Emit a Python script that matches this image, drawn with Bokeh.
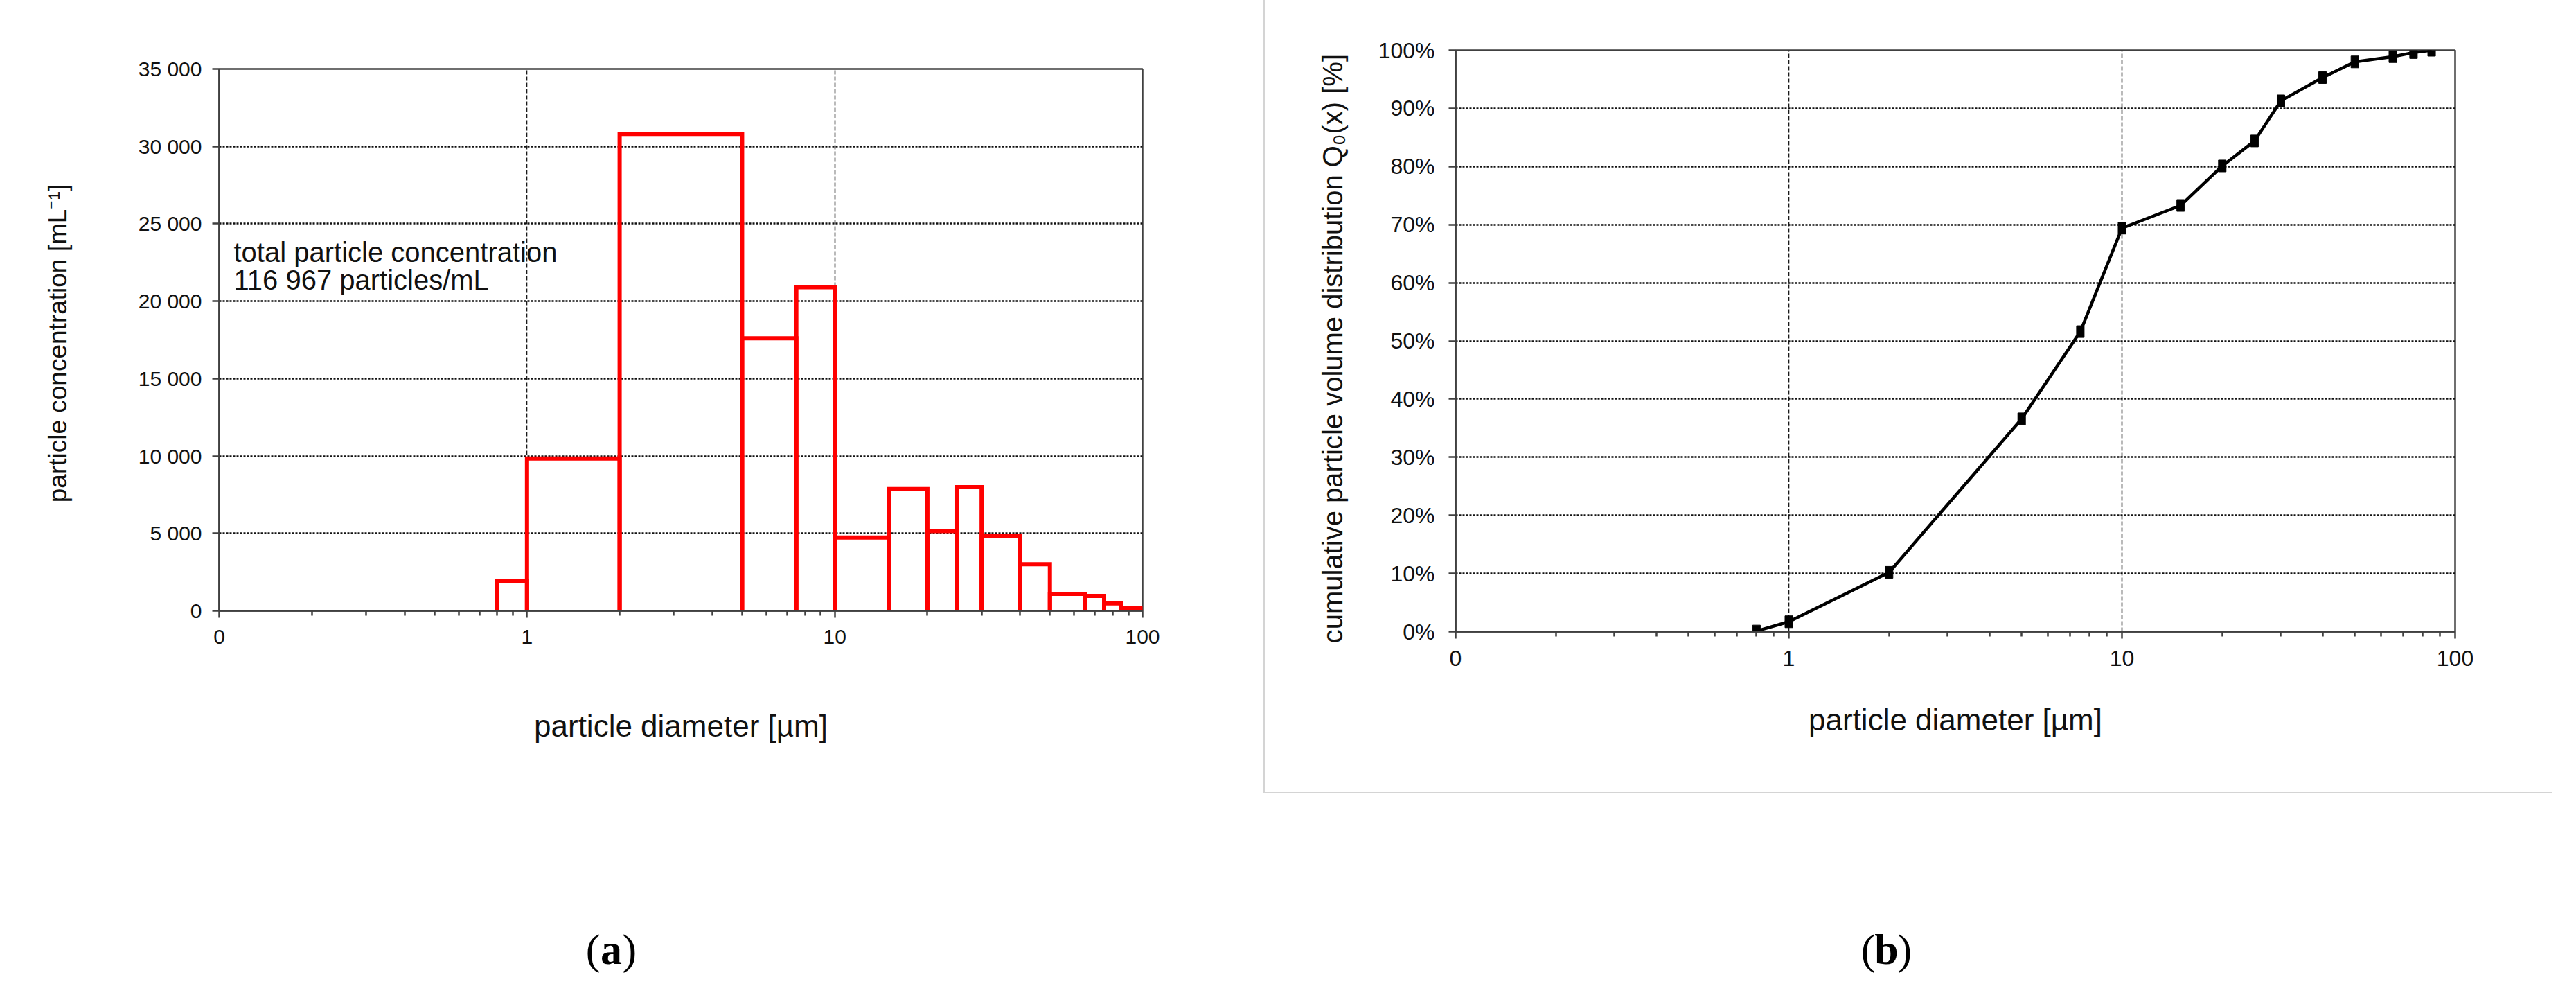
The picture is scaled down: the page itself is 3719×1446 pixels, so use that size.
from bokeh.plotting import figure
from bokeh.models import FixedTicker, Range1d, Label, Spacer
from bokeh.layouts import row, column
from bokeh.embed import file_html
from bokeh.resources import INLINE

# ---------------- data: panel (a) ----------------
bin_edges = [0.8, 1, 2, 5, 7.5, 10, 15, 20, 25, 30, 40, 50, 65, 75, 85, 100]
concentration = [1950, 9840, 30800, 17600, 20900, 4730, 7870, 5150, 7990,
                 4810, 3010, 1100, 960, 480, 180]
conc_ticks = [0, 5000, 10000, 15000, 20000, 25000, 30000, 35000]
conc_tick_labels = ["0", "5 000", "10 000", "15 000", "20 000", "25 000",
                    "30 000", "35 000"]
diam_ticks = [0.1, 1, 10, 100]
diam_tick_labels = ["0", "1", "10", "100"]
diam_grid = [1, 10]
total_text = ["total particle concentration", "116 967 particles/mL"]

# ---------------- data: panel (b) ----------------
cum_diam = [0.8, 1, 2, 5, 7.5, 10, 15, 20, 25, 30, 40, 50, 65, 75, 85]
cum_volume = [0.1, 1.7, 10.2, 36.6, 51.6, 69.4, 73.3, 80.1, 84.4, 91.3,
              95.3, 98.0, 98.9, 99.6, 100.0]
pct_ticks = [0, 10, 20, 30, 40, 50, 60, 70, 80, 90, 100]
pct_tick_labels = ["0%", "10%", "20%", "30%", "40%", "50%", "60%", "70%",
                   "80%", "90%", "100%"]

minor_diam = [m * 10.0 ** e for e in (-1, 0, 1) for m in range(2, 10)]

FONT = "Liberation Sans"
SERIF = "Liberation Serif"
AXC = "#404040"


def style(p, tick_size, title_size, ytitle_size):
    p.outline_line_color = AXC
    p.outline_line_width = 2.5
    for ax in (p.xaxis[0], p.yaxis[0]):
        ax.axis_line_color = AXC
        ax.axis_line_width = 2.5
        ax.major_tick_line_color = AXC
        ax.major_tick_line_width = 2.5
        ax.minor_tick_line_color = AXC
        ax.minor_tick_line_width = 2.5
        ax.major_tick_out = 10
        ax.major_tick_in = 0
        ax.minor_tick_out = 7
        ax.minor_tick_in = 0
        ax.major_label_text_font = FONT
        ax.major_label_text_font_size = f"{tick_size}px"
        ax.major_label_text_color = "#111111"
        ax.axis_label_text_font = FONT
        ax.axis_label_text_font_style = "normal"
        ax.axis_label_text_color = "#111111"
    p.xaxis.axis_label_text_font_size = f"{title_size}px"
    p.yaxis.axis_label_text_font_size = f"{ytitle_size}px"
    p.xaxis.ticker = FixedTicker(ticks=diam_ticks, minor_ticks=minor_diam)
    p.xaxis.major_label_overrides = dict(zip(diam_ticks, diam_tick_labels))
    p.xgrid.ticker = FixedTicker(ticks=diam_grid)
    p.xgrid.grid_line_color = "#1a1a1a"
    p.xgrid.grid_line_dash = "6 3"
    p.xgrid.grid_line_width = 1.6
    p.ygrid.grid_line_color = "#111111"
    p.ygrid.grid_line_dash = "3 2"
    p.ygrid.grid_line_width = 2.5
    p.background_fill_color = "white"
    p.border_fill_color = "white"


def panel_letter(p, x, y, letter):
    # "(" + bold letter + ")" centred on x
    half = 16
    p.add_layout(Label(x=x - half, y=y, x_units="screen", y_units="screen",
                       text="(", text_font=SERIF, text_font_size="62px",
                       text_color="black", text_align="right",
                       text_baseline="middle"))
    p.add_layout(Label(x=x, y=y, x_units="screen", y_units="screen",
                       text=letter, text_font=SERIF, text_font_size="62px",
                       text_font_style="bold", text_color="black",
                       text_align="center", text_baseline="middle"))
    p.add_layout(Label(x=x + half, y=y, x_units="screen", y_units="screen",
                       text=")", text_font=SERIF, text_font_size="62px",
                       text_color="black", text_align="left",
                       text_baseline="middle"))


def letter_fig(width, height):
    f = figure(width=width, height=height, x_range=Range1d(0, 1),
               y_range=Range1d(0, 1), x_axis_type=None, y_axis_type=None,
               outline_line_color=None, toolbar_location=None,
               output_backend="svg", min_border=0)
    f.xgrid.visible = False
    f.ygrid.visible = False
    return f


# ---------------- panel (a) ----------------
pa = figure(width=1824, height=1145, x_axis_type="log",
            x_range=Range1d(0.1, 100), y_range=Range1d(0, 35000),
            output_backend="svg", toolbar_location=None,
            min_border_left=316, min_border_right=175,
            min_border_top=99, min_border_bottom=264)
style(pa, 30, 44, 37)
pa.yaxis.ticker = FixedTicker(ticks=conc_ticks)
pa.yaxis.major_label_overrides = dict(zip(conc_ticks, conc_tick_labels))
pa.ygrid.ticker = FixedTicker(ticks=conc_ticks[1:-1])
pa.xaxis.axis_label = "particle diameter [µm]"
pa.yaxis.axis_label = "particle concentration  [mL⁻¹]"
pa.xaxis.major_label_standoff = 17
pa.xaxis.axis_label_standoff = 91
pa.yaxis.major_label_standoff = 15
pa.yaxis.axis_label_standoff = 93

hist_xs = [[l, l, r, r] for l, r in zip(bin_edges[:-1], bin_edges[1:])]
hist_ys = [[0, h, h, 0] for h in concentration]
pa.multi_line(hist_xs, hist_ys, line_color="#ff0000", line_width=6,
              line_join="miter")

for i, t in enumerate(total_text):
    pa.add_layout(Label(x=21, y=518 - 40 * i, x_units="screen", y_units="screen",
                        text=t, text_font=FONT, text_font_size="40px",
                        text_color="#111111", text_baseline="middle",
                        text_align="left"))

# this figure's frame is aligned with the frame of (a) in the column,
# so its screen x is measured from x = 316
pla = letter_fig(1824, 293)
panel_letter(pla, 566, 69, "a")

# ---------------- panel (b) ----------------
pb = figure(width=1858, height=1143, x_axis_type="log",
            x_range=Range1d(0.1, 100), y_range=Range1d(0, 100),
            output_backend="svg", toolbar_location=None,
            min_border_left=275, min_border_right=140,
            min_border_top=72, min_border_bottom=232)
style(pb, 32, 44, 40)
pb.yaxis.ticker = FixedTicker(ticks=pct_ticks)
pb.yaxis.major_label_overrides = dict(zip(pct_ticks, pct_tick_labels))
pb.ygrid.ticker = FixedTicker(ticks=pct_ticks[1:-1])
pb.xaxis.axis_label = "particle diameter [µm]"
pb.yaxis.axis_label = "cumulative particle volume distribution  Q₀(x)  [%]"
pb.xaxis.major_label_standoff = 17
pb.xaxis.axis_label_standoff = 50
pb.yaxis.major_label_standoff = 20
pb.yaxis.axis_label_standoff = 41

pb.line(cum_diam, cum_volume, line_color="black", line_width=4.5)
pb.rect(cum_diam, cum_volume, width=11, height=17, width_units="screen",
        height_units="screen", fill_color="black", line_color="black")

vline = Spacer(width=2, height=1143, styles={"background-color": "#d4d4d4"})
hline = Spacer(width=1860, height=2, styles={"background-color": "#d4d4d4"})

plb = letter_fig(1860, 293)
panel_letter(plb, 899, 69, "b")

layout = row(column(pa, pla), column(row(vline, pb), hline, plb))

open("out.html", "w").write(file_html(layout, INLINE))
